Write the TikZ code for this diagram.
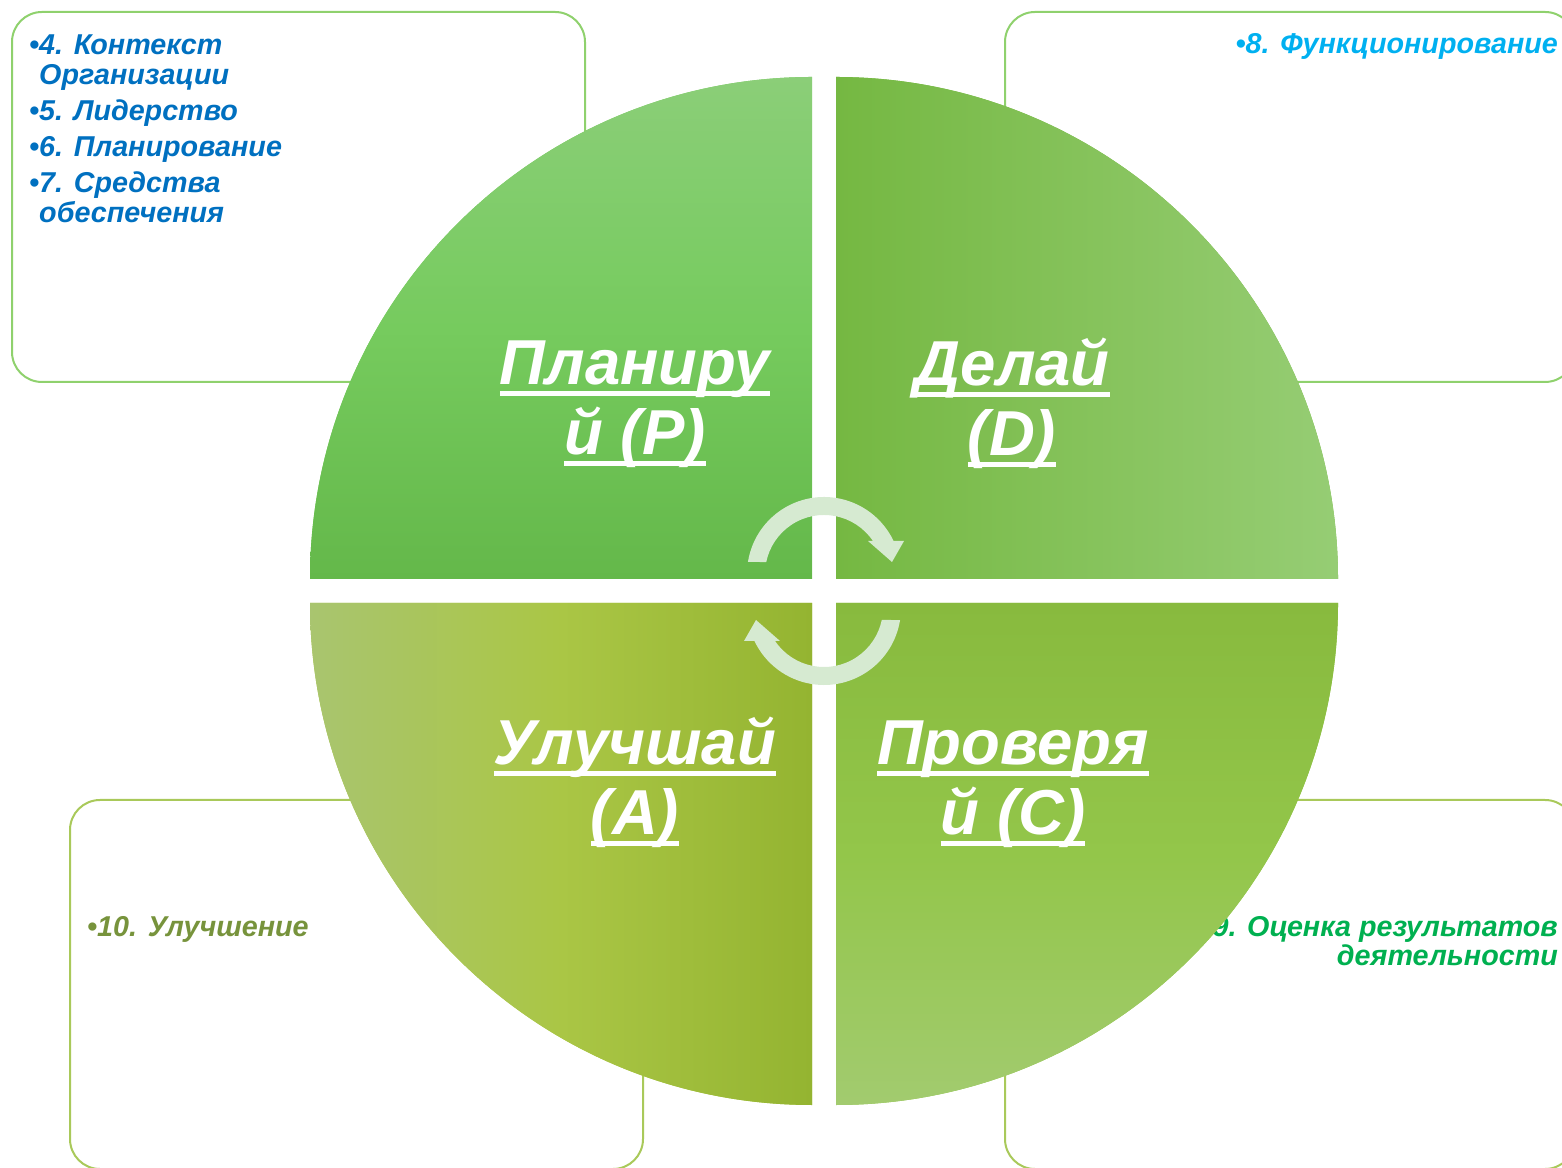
\documentclass[tikz,border=0pt]{standalone}
\usepackage{fontspec}
\setmainfont{Liberation Sans}
\definecolor{boxG}{HTML}{8FD16D}
\definecolor{boxY}{HTML}{A9C95A}
\definecolor{tlT}{HTML}{0070C0}
\definecolor{trT}{HTML}{00B0F0}
\definecolor{brT}{HTML}{00B050}
\definecolor{blT}{HTML}{77933C}
\definecolor{tlTop}{HTML}{8BCE78}
\definecolor{tlMid}{HTML}{76CB5E}
\definecolor{tlBot}{HTML}{64B84A}
\definecolor{trL}{HTML}{75B842}
\definecolor{trR}{HTML}{96CD74}
\definecolor{blL}{HTML}{A9C56F}
\definecolor{blM}{HTML}{AAC645}
\definecolor{blR}{HTML}{94B431}
\definecolor{brTop}{HTML}{88BA3E}
\definecolor{brMid}{HTML}{93C64A}
\definecolor{brBot}{HTML}{A2CB6F}
\definecolor{arrowC}{HTML}{D6EAD1}
\newcommand{\myul}[1]{\setbox0=\hbox{#1}\rlap{\rule[-11pt]{\wd0}{4.5pt}}\box0}
\begin{document}
\begin{tikzpicture}[x=1pt,y=1pt,
  boxtop/.style={draw=boxG,line width=2pt,rounded corners=30pt},
  boxbot/.style={draw=boxY,line width=2pt,rounded corners=30pt},
  itemtxt/.style={font=\fontsize{28.7}{31}\selectfont\bfseries\itshape,inner sep=0pt},
  biglbl/.style={font=\fontsize{63.5}{70}\selectfont\bfseries\itshape,text=white,inner sep=0pt,anchor=base},
  cyc/.style={fill=arrowC}]
\useasboundingbox (0,0) rectangle (1562,1167);
% boxes
\draw[boxtop] (12,785) rectangle (585,1155);
\draw[boxtop] (1005,785) rectangle (1575,1155);
\draw[boxbot] (70,-2) rectangle (643,367);
\draw[boxbot] (1005,-2) rectangle (1575,367);
% box texts
\node[itemtxt,text=tlT,anchor=base west] (t4) at (29,1112) {•4. Контекст};
\node[itemtxt,text=tlT,anchor=base west] (t4b) at (29,1082) {\hphantom{•}Организации};
\node[itemtxt,text=tlT,anchor=base west] (t5) at (29,1046) {•5. Лидерство};
\node[itemtxt,text=tlT,anchor=base west] (t6) at (29,1010) {•6. Планирование};
\node[itemtxt,text=tlT,anchor=base west] (t7) at (29,974) {•7. Средства};
\node[itemtxt,text=tlT,anchor=base west] (t7b) at (29,944) {\hphantom{•}обеспечения};
\node[itemtxt,text=trT,anchor=base east] (t8) at (1558,1113) {•8. Функционирование};
\node[itemtxt,text=brT,anchor=base east] (t9) at (1558,230) {•9. Оценка результатов};
\node[itemtxt,text=brT,anchor=base east] (t9b) at (1558,201) {деятельности};
\node[itemtxt,text=blT,anchor=base west] (t10) at (87,230) {•10. Улучшение};
% quadrants
\fill[tlMid] (812,588) -- (310,588) arc[start angle=180,end angle=90,radius=502] -- cycle;
\shade[top color=tlTop,bottom color=tlBot,middle color=tlMid]
  (812,588) -- (310,588) arc[start angle=180,end angle=90,radius=502] -- cycle;
\fill[trL] (836,588) -- (836,1090) arc[start angle=90,end angle=0,radius=502] -- cycle;
\shade[left color=trL,right color=trR]
  (836,588) -- (836,1090) arc[start angle=90,end angle=0,radius=502] -- cycle;
\fill[blM] (812,564) -- (812,62) arc[start angle=270,end angle=180,radius=502] -- cycle;
\shade[left color=blL,right color=blR,middle color=blM]
  (812,564) -- (812,62) arc[start angle=270,end angle=180,radius=502] -- cycle;
\fill[brMid] (836,564) -- (1338,564) arc[start angle=0,end angle=-90,radius=502] -- cycle;
\shade[top color=brTop,bottom color=brBot,middle color=brMid]
  (836,564) -- (1338,564) arc[start angle=0,end angle=-90,radius=502] -- cycle;
% labels
\node[biglbl] (p1) at (635,782) {\myul{Планиру}};
\node[biglbl] (p2) at (635,712) {\myul{й (P)}};
\node[biglbl] (d1) at (1012,781) {\myul{Делай}};
\node[biglbl] (d2) at (1012,711) {\myul{(D)}};
\node[biglbl] (a1) at (635,402) {\myul{Улучшай}};
\node[biglbl] (a2) at (635,332) {\myul{(A)}};
\node[biglbl] (c1l) at (1013,402) {\myul{Проверя}};
\node[biglbl] (c2l) at (1013,332) {\myul{й (C)}};
% cycle arrows
\coordinate (c1) at (824,593);
\coordinate (c2) at (824,559);
\fill[cyc] ([shift={(171:77)}]c1) arc[start angle=171,end angle=25.4,radius=77]
  -- ([shift={(34:59)}]c1) arc[start angle=34,end angle=168.3,radius=59] -- cycle;
\fill[cyc] (868,626) -- (904,626) -- (892,605) -- cycle;
\fill[cyc] ([shift={(351:77)}]c2) arc[start angle=351,end angle=205.4,radius=77]
  -- ([shift={(214:59)}]c2) arc[start angle=214,end angle=348.3,radius=59] -- cycle;
\fill[cyc] (780,526) -- (744,526) -- (756,547) -- cycle;
\end{tikzpicture}
\end{document}
